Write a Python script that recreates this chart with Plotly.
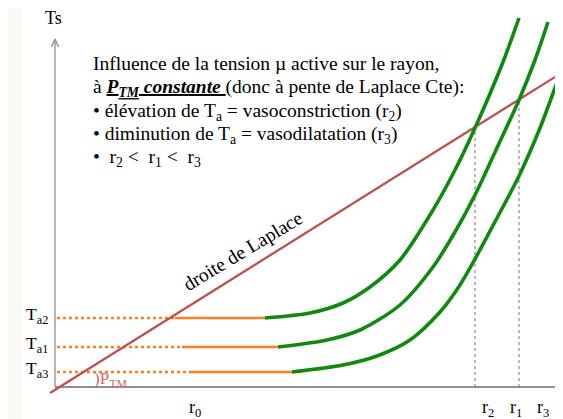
import plotly.graph_objects as go

# ---- data (diagram units: r horizontal, Ts vertical, origin at axes crossing) ----
ta_names = ["T<sub>a2</sub>", "T<sub>a1</sub>", "T<sub>a3</sub>"]
ta_levels = [69, 40, 15]
orange_solid_start = [120, 127, 135]

curve_ta2_r = [210, 255, 288, 315, 345, 378, 400, 420, 448, 464]
curve_ta2_t = [69, 74, 84, 100, 127, 177, 217, 259, 325, 369]
curve_ta1_r = [223, 272, 305, 345, 378, 400, 420, 441, 464, 480, 493]
curve_ta1_t = [40, 47, 57, 82, 120, 155, 192, 237, 287, 327, 365]
curve_ta3_r = [237, 288, 322, 355, 385, 403, 420, 442, 464, 485, 504, 511]
curve_ta3_t = [15, 22, 31, 47, 75, 99, 128, 169, 211, 259, 310, 329]

laplace_r = [-5, 508]
laplace_t = [-6, 315]

r_eq_names = ["r<sub>2</sub>", "r<sub>1</sub>", "r<sub>3</sub>"]
r_eq = [420, 464, 504]
t_eq = [260, 287, 313]
r_label_pos = [433, 461, 488]
r0_pos = 140

GREEN = "#0f8a0f"
ORANGE = "#ff7f1e"
RED = "#c0504d"
GRAY = "#8f8f8f"
FONT = "Liberation Serif, Times New Roman, Times, serif"

# page body has an 8px margin: figure is 555x411 placed at (8, 8)
OFF = 8

fig = go.Figure()

# axes
fig.add_trace(go.Scatter(x=[0, 0], y=[0, 348], mode="lines",
                         line=dict(color=GRAY, width=1.3), hoverinfo="skip"))
fig.add_trace(go.Scatter(x=[-3.5, 0, 3.5], y=[340, 348, 340], mode="lines",
                         line=dict(color=GRAY, width=1.3), hoverinfo="skip"))
fig.add_trace(go.Scatter(x=[0, 508], y=[0, 0], mode="lines",
                         line=dict(color=GRAY, width=1.8), hoverinfo="skip"))

# vertical dotted equilibrium lines
for r, t in zip(r_eq, t_eq):
    fig.add_trace(go.Scatter(x=[r, r], y=[0, t], mode="lines",
                             line=dict(color="#777777", width=1, dash="dot"),
                             hoverinfo="skip"))

# orange Ta lines
for lvl, s, gr in zip(ta_levels, orange_solid_start,
                      [curve_ta2_r[0], curve_ta1_r[0], curve_ta3_r[0]]):
    fig.add_trace(go.Scatter(x=[2, s], y=[lvl, lvl], mode="lines",
                             line=dict(color=ORANGE, width=2.5, dash="dot"),
                             hoverinfo="skip"))
    fig.add_trace(go.Scatter(x=[s, gr], y=[lvl, lvl], mode="lines",
                             line=dict(color=ORANGE, width=2.7),
                             hoverinfo="skip"))

# Laplace line
fig.add_trace(go.Scatter(x=laplace_r, y=laplace_t, mode="lines",
                         line=dict(color=RED, width=2.3), hoverinfo="skip"))

# green curves
for cr, ct in [(curve_ta2_r, curve_ta2_t), (curve_ta1_r, curve_ta1_t),
               (curve_ta3_r, curve_ta3_t)]:
    fig.add_trace(go.Scatter(x=cr, y=ct, mode="lines",
                             line=dict(color=GREEN, width=3.6, shape="spline",
                                       smoothing=0.8),
                             hoverinfo="skip"))

ann = []


def txt(x, y, s, size=19.5, color="black", xanchor="left", angle=0):
    ann.append(dict(x=x, y=y, xref="x", yref="y", text=s, showarrow=False,
                    xanchor=xanchor, yanchor="middle", textangle=angle,
                    font=dict(family=FONT, size=size, color=color)))


txt(-2, 369, "Ts", 18, xanchor="center")
lines = [
    "Influence de la tension µ active sur le rayon,",
    "à <b><i><u>P<sub>TM</sub> constante </u></i></b>(donc à pente de Laplace Cte):",
    "• élévation de T<sub>a</sub> = vasoconstriction (r<sub>2</sub>)",
    "• diminution de T<sub>a</sub> = vasodilatation (r<sub>3</sub>)",
    "•  r<sub>2</sub> <  r<sub>1</sub> <  r<sub>3</sub>",
]
line_y = [324, 299, 275, 252, 229]
for s, y in zip(lines, line_y):
    txt(36, y, s, 19.5)

txt(187, 136, "droite de Laplace", 19.5, xanchor="center", angle=-31)

for name, lvl in zip(ta_names, ta_levels):
    txt(-5, lvl + 3, name, 17.5, xanchor="right")

txt(37, 7, ")P<sub>TM</sub>", 17, color="#d86a6a")

txt(r0_pos, -21, "r<sub>0</sub>", 18, xanchor="center")
for name, x in zip(r_eq_names, r_label_pos):
    txt(x, -21, name, 18, xanchor="center")

fig.update_layout(
    width=563 - OFF, height=419 - OFF,
    margin=dict(l=0, r=0, t=0, b=0),
    paper_bgcolor="white", plot_bgcolor="white",
    showlegend=False,
    xaxis=dict(range=[-55 + OFF, 508], visible=False, fixedrange=True),
    yaxis=dict(range=[-32, 387 - OFF], visible=False, fixedrange=True),
    annotations=ann,
    shapes=[dict(type="rect", xref="paper", yref="paper", x0=0,
                 x1=(22 - OFF) / (563 - OFF),
                 y0=0, y1=1, fillcolor="#fbf9f5", line=dict(width=0),
                 layer="below")],
)

fig.write_html("out.html")
